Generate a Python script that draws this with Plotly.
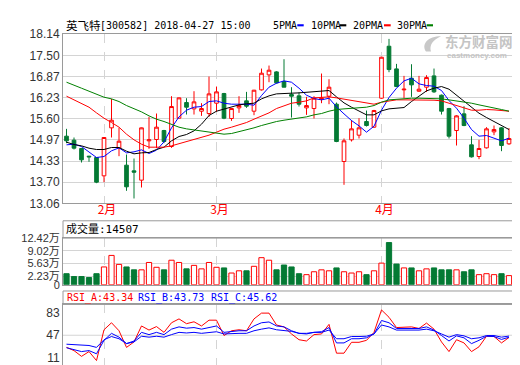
import plotly.graph_objects as go

# ---------------- data ----------------
dates = [
    "2018-01-25", "2018-01-26", "2018-01-29", "2018-01-30", "2018-01-31",
    "2018-02-01", "2018-02-02", "2018-02-05", "2018-02-06", "2018-02-07",
    "2018-02-08", "2018-02-09", "2018-02-12", "2018-02-13", "2018-02-14",
    "2018-02-22", "2018-02-23", "2018-02-26", "2018-02-27", "2018-02-28",
    "2018-03-01", "2018-03-02", "2018-03-05", "2018-03-06", "2018-03-07",
    "2018-03-08", "2018-03-09", "2018-03-12", "2018-03-13", "2018-03-14",
    "2018-03-15", "2018-03-16", "2018-03-19", "2018-03-20", "2018-03-21",
    "2018-03-22", "2018-03-23", "2018-03-26", "2018-03-27", "2018-03-28",
    "2018-03-29", "2018-03-30", "2018-04-02", "2018-04-03", "2018-04-04",
    "2018-04-09", "2018-04-10", "2018-04-11", "2018-04-12", "2018-04-13",
    "2018-04-16", "2018-04-17", "2018-04-18", "2018-04-19", "2018-04-20",
    "2018-04-23", "2018-04-24", "2018-04-25", "2018-04-26", "2018-04-27",
]

open_ = [15.08, 14.96, 14.71, 14.48, 14.44, 13.89, 15.33, 14.72, 14.21, 14.04,
         13.76, 14.94, 14.98, 15.25, 14.77, 15.62, 16.09, 15.90, 15.83, 15.76,
         16.07, 16.36, 15.61, 15.93, 16.14, 15.83, 16.47, 16.92, 17.01, 16.72,
         16.33, 16.29, 15.93, 15.91, 16.20, 16.28, 16.04, 14.32, 14.97, 15.11,
         15.52, 15.35, 16.22, 17.78, 17.10, 16.47, 16.82, 16.43, 16.55, 16.89,
         16.31, 15.91, 15.25, 15.75, 14.82, 14.47, 14.73, 15.21, 15.33, 14.85]
high = [15.30, 15.04, 14.73, 14.49, 14.45, 15.05, 16.20, 15.33, 14.53, 14.41,
        15.34, 15.66, 15.76, 15.27, 16.28, 16.24, 16.22, 16.43, 16.07, 16.87,
        16.57, 16.38, 15.92, 16.28, 16.41, 16.47, 17.11, 17.20, 17.03, 17.39,
        16.55, 16.39, 16.26, 16.28, 16.96, 16.79, 16.09, 15.01, 15.56, 15.62,
        15.85, 15.87, 17.46, 18.00, 17.25, 16.89, 17.24, 16.89, 16.91, 17.11,
        16.33, 15.93, 15.71, 15.98, 15.08, 14.97, 15.35, 15.40, 15.35, 15.32]
low = [14.87, 14.68, 14.29, 14.31, 13.67, 13.70, 15.04, 14.48, 13.44, 13.21,
       13.54, 14.70, 14.72, 14.87, 14.73, 15.61, 15.73, 15.73, 15.69, 15.66,
       15.81, 15.59, 15.54, 15.78, 15.93, 15.71, 16.45, 16.70, 16.66, 16.55,
       15.64, 15.97, 15.72, 15.61, 16.07, 16.04, 14.90, 13.62, 14.92, 15.01,
       15.37, 15.33, 16.20, 17.00, 16.55, 16.22, 16.26, 16.41, 16.41, 16.38,
       15.73, 15.01, 14.80, 15.38, 14.44, 14.39, 14.71, 15.11, 14.63, 14.82]
close = [14.94, 14.72, 14.37, 14.46, 13.70, 15.04, 15.56, 14.93, 13.56, 14.00,
         15.33, 14.97, 15.35, 14.92, 15.97, 16.23, 15.95, 16.11, 15.91, 16.35,
         16.41, 15.62, 15.91, 16.00, 15.98, 16.46, 16.97, 17.06, 16.68, 16.55,
         16.28, 16.04, 16.00, 16.22, 16.22, 16.55, 14.92, 14.94, 15.30, 15.33,
         15.40, 15.85, 17.45, 17.08, 16.57, 16.49, 16.62, 16.49, 16.84, 16.41,
         15.83, 15.08, 15.69, 15.40, 14.46, 14.71, 15.30, 15.28, 14.80, 15.01]

ma5 = [14.82, 14.84, 14.77, 14.60, 14.44, 14.47, 14.64, 14.73, 14.58, 14.61,
       14.67, 14.56, 14.66, 14.91, 15.33, 15.66, 15.86, 15.95, 15.97, 16.12,
       16.14, 16.07, 16.04, 16.04, 16.04, 16.01, 16.30, 16.55, 16.67, 16.74,
       16.70, 16.52, 16.31, 16.21, 16.17, 16.22, 15.96, 15.75, 15.55, 15.39,
       15.20, 15.38, 15.86, 16.24, 16.52, 16.74, 16.82, 16.65, 16.60, 16.58,
       16.45, 16.15, 15.92, 15.62, 15.28, 15.08, 15.10, 15.02, 14.94, 15.02]
ma10 = [14.90, 14.83, 14.79, 14.72, 14.68, 14.68, 14.74, 14.74, 14.63, 14.55,
        14.58, 14.59, 14.68, 14.75, 14.94, 15.07, 15.13, 15.24, 15.44, 15.70,
        15.83, 15.90, 15.96, 16.02, 16.05, 16.07, 16.20, 16.29, 16.35, 16.37,
        16.37, 16.38, 16.40, 16.42, 16.45, 16.45, 16.26, 16.08, 15.95, 15.83,
        15.72, 15.72, 15.84, 15.90, 15.93, 15.94, 16.12, 16.29, 16.44, 16.52,
        16.57, 16.49, 16.31, 16.14, 15.95, 15.77, 15.64, 15.52, 15.40, 15.28]
ma20 = [16.28, 16.17, 16.07, 15.95, 15.78, 15.62, 15.49, 15.35, 15.14, 14.97,
        14.84, 14.75, 14.75, 14.75, 14.79, 14.85, 14.92, 14.98, 15.04, 15.11,
        15.20, 15.29, 15.35, 15.42, 15.49, 15.59, 15.69, 15.78, 15.91, 16.00,
        16.07, 16.10, 16.14, 16.23, 16.25, 16.26, 16.23, 16.19, 16.14, 16.10,
        16.07, 16.04, 16.10, 16.14, 16.17, 16.17, 16.17, 16.17, 16.16, 16.16,
        16.14, 16.07, 15.98, 15.91, 15.86, 15.86, 15.88, 15.87, 15.85, 15.83]
ma30 = [16.70, 16.62, 16.52, 16.43, 16.33, 16.25, 16.20, 16.12, 16.00, 15.91,
        15.81, 15.69, 15.59, 15.52, 15.43, 15.35, 15.30, 15.27, 15.23, 15.21,
        15.18, 15.14, 15.16, 15.21, 15.27, 15.33, 15.40, 15.47, 15.52, 15.56,
        15.59, 15.62, 15.66, 15.72, 15.76, 15.83, 15.88, 15.90, 15.91, 15.93,
        15.95, 16.00, 16.10, 16.17, 16.19, 16.20, 16.22, 16.22, 16.22, 16.22,
        16.20, 16.17, 16.14, 16.10, 16.07, 16.02, 15.98, 15.93, 15.88, 15.83]

volume_wan = [2.94, 2.18, 2.18, 1.92, 2.94, 4.74, 7.81, 5.42, 4.74, 3.97,
              3.97, 5.93, 4.65, 3.97, 6.53, 5.93, 4.23, 5.16, 4.23, 5.93,
              4.65, 4.48, 3.12, 3.71, 3.71, 4.91, 7.21, 6.53, 3.97, 5.25,
              4.74, 2.94, 2.69, 3.46, 3.97, 3.71, 4.48, 3.46, 3.12, 3.46,
              2.69, 3.71, 5.76, 11.23, 5.51, 4.48, 4.48, 3.71, 4.23, 4.48,
              3.97, 3.97, 3.97, 3.46, 3.97, 2.69, 2.94, 2.69, 2.94, 2.43]

rsi_a = [27.2, 22.0, 12.6, 20.4, 5.8, 55.9, 67.3, 54.3, 27.2, 36.1,
         62.1, 55.4, 61.1, 51.7, 67.3, 73.6, 65.8, 68.9, 62.1, 71.5,
         71.5, 46.5, 54.3, 55.9, 54.3, 73.6, 83.0, 83.0, 63.7, 60.6,
         49.1, 39.7, 37.6, 48.0, 49.1, 64.7, 17.8, 17.8, 35.5, 35.5,
         38.7, 51.7, 88.2, 76.2, 59.5, 59.5, 60.6, 58.0, 66.8, 56.9,
         36.1, 20.4, 39.7, 34.5, 20.4, 28.2, 45.4, 44.9, 34.5, 43.34]
rsi_b = [26.7, 23.0, 20.4, 22.0, 16.8, 38.7, 50.1, 43.9, 33.4, 37.6,
         51.7, 48.0, 51.7, 48.0, 56.9, 60.6, 58.5, 59.5, 56.9, 59.5,
         62.1, 51.7, 53.3, 54.3, 54.3, 62.1, 67.3, 68.6, 62.1, 60.6,
         54.3, 50.1, 49.1, 51.7, 52.7, 59.5, 34.5, 34.5, 41.3, 41.3,
         42.8, 49.1, 71.0, 67.3, 58.0, 58.0, 58.0, 58.0, 60.6, 55.4,
         46.5, 37.6, 46.0, 42.8, 33.4, 38.7, 45.4, 44.9, 40.2, 43.73]
rsi_c = [32.4, 31.9, 30.8, 30.3, 27.2, 39.7, 44.9, 41.3, 33.4, 36.1,
         45.4, 43.9, 45.4, 43.9, 48.0, 51.7, 50.7, 51.7, 50.1, 51.7,
         52.7, 49.1, 50.1, 50.1, 50.1, 54.3, 56.9, 59.0, 55.9, 54.3,
         53.3, 50.1, 50.1, 51.7, 51.7, 55.4, 41.3, 41.3, 44.9, 44.9,
         45.4, 49.1, 63.7, 60.6, 55.4, 55.4, 55.4, 55.4, 56.9, 54.3,
         49.1, 43.9, 48.0, 46.0, 41.3, 42.8, 46.5, 46.5, 43.9, 45.62]

price_ticks = [13.06, 13.70, 14.33, 14.97, 15.60, 16.23, 16.87, 17.50, 18.14]
vol_ticks = [0, 2.23, 5.63, 9.02, 12.42]
vol_tick_text = ["0", "2.23万", "5.63万", "9.02万", "12.42万"]
rsi_ticks = [11, 47, 83]
month_ticks = ["2018-02-01", "2018-03-01", "2018-04-02"]
month_text = ["2月", "3月", "4月"]

title_name = "英飞特"
title_rest = "[300582] 2018-04-27 15:00"
ma_labels = ["5PMA", "10PMA", "20PMA", "30PMA"]
vol_label = "成交量:14507"
rsi_labels = ["RSI_A:43.34", "RSI_B:43.73", "RSI_C:45.62"]

# ---------------- style ----------------
W, H = 520, 365
RED = "#ff0000"
GREEN = "#047a34"
BLUE = "#0000ff"
BORDER = "#9a9a9a"
GRID = "#d4d4d4"
LBL = "Liberation Sans, Noto Sans CJK SC, sans-serif"
MONO = "DejaVu Sans Mono, Noto Sans CJK SC, monospace"
CJK = "Noto Sans CJK SC, sans-serif"


def py(p):
    return 1 - p / H


def px(p):
    return p / W


XL, XR = 55, 508
x_dom = [px(XL), px(XR)]
x_rng = [-0.467, 59.933]

fig = go.Figure()

fig.add_trace(go.Candlestick(
    x=dates, open=open_, high=high, low=low, close=close,
    increasing=dict(line=dict(color=RED, width=1), fillcolor="white"),
    decreasing=dict(line=dict(color=GREEN, width=1), fillcolor=GREEN),
    whiskerwidth=0, showlegend=False, xaxis="x", yaxis="y"))

for vals, col in [(ma5, BLUE), (ma10, "#000000"), (ma20, RED), (ma30, "#008000")]:
    fig.add_trace(go.Scatter(x=dates, y=vals, mode="lines",
                             line=dict(color=col, width=1),
                             showlegend=False, xaxis="x", yaxis="y"))

up = [c >= o for o, c in zip(open_, close)]
fig.add_trace(go.Bar(
    x=dates, y=volume_wan,
    marker=dict(color=["white" if u else GREEN for u in up],
                line=dict(color=[RED if u else GREEN for u in up], width=1)),
    showlegend=False, xaxis="x2", yaxis="y2"))

for vals, col in [(rsi_a, RED), (rsi_b, BLUE), (rsi_c, BLUE)]:
    fig.add_trace(go.Scatter(x=dates, y=vals, mode="lines",
                             line=dict(color=col, width=1),
                             showlegend=False, xaxis="x3", yaxis="y3"))

common_x = dict(domain=x_dom, type="category", range=x_rng,
                showline=True, mirror=True, linecolor=BORDER, linewidth=1,
                showgrid=True, gridcolor=GRID, griddash="dash", gridwidth=1,
                tickvals=month_ticks, ticks="", zeroline=False)
yfont = dict(family=LBL, size=12, color="#333333")
common_y = dict(showline=True, mirror=True, linecolor=BORDER, linewidth=1,
                showgrid=True, gridcolor=GRID, gridwidth=1, ticks="",
                zeroline=False, tickfont=yfont)

fig.update_layout(
    width=W, height=H, autosize=False,
    margin=dict(l=0, r=0, t=0, b=0),
    paper_bgcolor="white", plot_bgcolor="white",
    bargap=0.3, boxgap=0.3,
    xaxis=dict(**common_x, anchor="y", ticktext=month_text,
               tickfont=dict(family=CJK, size=12, color=RED),
               rangeslider=dict(visible=False), ticklabelshift=3,
               ticklabelstandoff=-5),
    xaxis2=dict(**common_x, anchor="y2", matches="x", showticklabels=False),
    xaxis3=dict(**common_x, anchor="y3", matches="x", showticklabels=False),
    yaxis=dict(**common_y, domain=[py(196), py(20)], range=[13.06, 18.14],
               tickvals=price_ticks, ticktext=[f"{v:.2f}" for v in price_ticks]),
    yaxis2=dict(**{**common_y, "tickfont": dict(family=LBL, size=11, color="#333333")},
                domain=[py(280.5), py(232)], range=[0, 12.42],
                tickvals=vol_ticks, ticktext=vol_tick_text),
    yaxis3=dict(**{**common_y, "showgrid": False}, domain=[py(364), py(301)],
                range=[-1.5, 97.1], tickvals=rsi_ticks,
                ticktext=[str(v) for v in rsi_ticks]),
    showlegend=False,
)

shapes = []
# header boxes for volume and RSI panels
for top, bot in [(214, 232), (287, 301)]:
    shapes.append(dict(type="rect", xref="paper", yref="paper",
                       x0=px(XL), x1=px(XR), y0=py(bot), y1=py(top),
                       line=dict(color=BORDER, width=1), fillcolor="rgba(0,0,0,0)"))
# RSI middle guide line
shapes.append(dict(type="line", xref="paper", yref="y3", x0=px(XL), x1=px(XR),
                   y0=47, y1=47, line=dict(color=GRID, width=1), layer="below"))
# legend swatches
for (x0, x1), col in zip([(289.3, 295.7), (331.7, 338.3), (376, 382.7), (418.7, 425)],
                         [BLUE, "#000000", RED, "#008000"]):
    shapes.append(dict(type="rect", xref="paper", yref="paper",
                       x0=px(x0), x1=px(x1), y0=py(11.8), y1=py(9.6),
                       line=dict(width=0), fillcolor=col))
# watermark swoosh
sw = [(418, 38), (413, 30), (420, 22), (433, 22), (425, 26), (421, 31), (423, 38)]
path = (f"M {px(sw[0][0])},{py(sw[0][1])} C {px(sw[1][0])},{py(sw[1][1])} "
        f"{px(sw[2][0])},{py(sw[2][1])} {px(sw[3][0])},{py(sw[3][1])} "
        f"C {px(sw[4][0])},{py(sw[4][1])} {px(sw[5][0])},{py(sw[5][1])} "
        f"{px(sw[6][0])},{py(sw[6][1])} Z")
shapes.append(dict(type="path", xref="paper", yref="paper", path=path,
                   fillcolor="#c8c8c8", line=dict(width=0), layer="below"))
fig.update_layout(shapes=shapes)

ann = []


def text(x, y, s, size, family, color="#000000", anchor="left", bold=False):
    ann.append(dict(x=px(x), y=py(y), xref="paper", yref="paper", text=s,
                    showarrow=False, xanchor=anchor, yanchor="middle",
                    font=dict(size=size, family=family, color=color,
                              weight="bold" if bold else "normal")))


text(56, 10.5, title_name, 11.5, CJK)
text(90, 10.5, title_rest, 10, MONO)
for lbl, xx in zip(ma_labels, [263.3, 301, 342.7, 386.7]):
    text(xx, 10.5, lbl, 10, MONO)
text(56, 223, vol_label, 11, MONO)
for lbl, xx, col in zip(rsi_labels, [56.7, 128.3, 200.7], [RED, BLUE, BLUE]):
    text(xx, 294, lbl, 10, MONO, col)
text(435, 27.5, "东方财富网", 13.5, CJK, "#c4c4c4", bold=True)
text(437, 42.5, "eastmoney.com", 8, LBL, "#c4c4c4", bold=True)
fig.update_layout(annotations=ann)

fig.write_html("out.html")
